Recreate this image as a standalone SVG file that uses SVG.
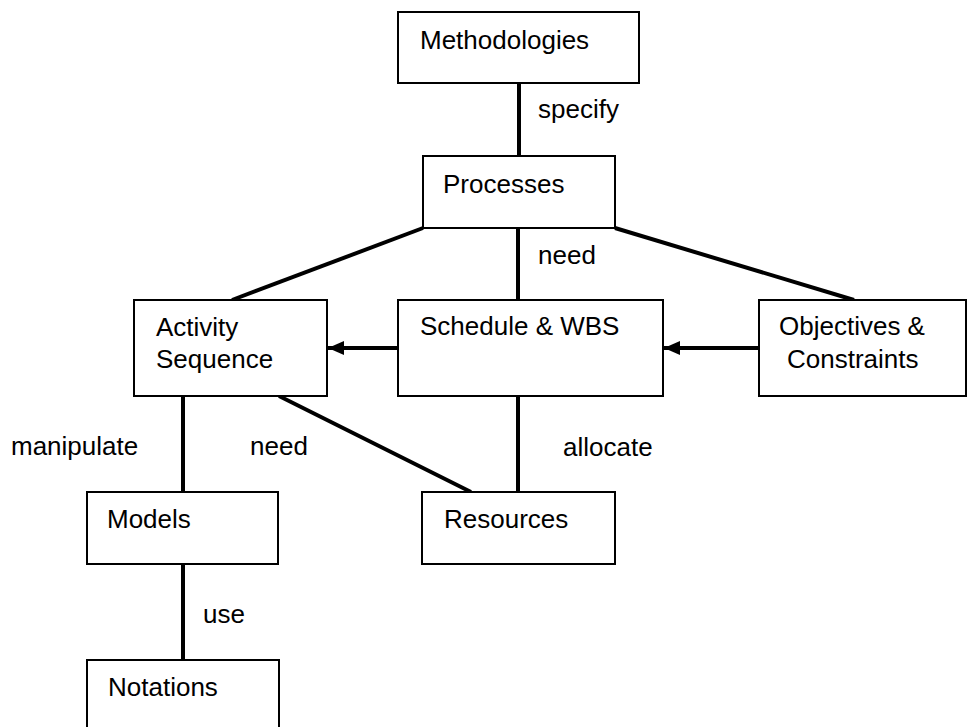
<svg xmlns="http://www.w3.org/2000/svg" width="967" height="727" viewBox="0 0 967 727">
<defs>
<style>
.box{fill:#fff;stroke:#000;stroke-width:2}
.t{font-family:"Liberation Sans",Arial,sans-serif;font-size:26px;fill:#000}
.c{stroke:#000;stroke-width:4;fill:none}
</style>
<marker id="ah" viewBox="0 0 16 14" refX="16" refY="7" markerWidth="16" markerHeight="14" markerUnits="userSpaceOnUse" orient="auto">
<path d="M0,0 L16,7 L0,14 Z" fill="#000"/>
</marker>
</defs>
<rect width="967" height="727" fill="#fff"/>
<g id="connectors">
<line class="c" x1="519" y1="83" x2="519" y2="156"/>
<line class="c" x1="518" y1="228" x2="518" y2="300"/>
<line class="c" x1="423" y1="228" x2="232" y2="300"/>
<line class="c" x1="615" y1="228" x2="854" y2="300"/>
<line class="c" x1="398" y1="348" x2="328" y2="348" marker-end="url(#ah)"/>
<line class="c" x1="759" y1="348" x2="664" y2="348" marker-end="url(#ah)"/>
<line class="c" x1="183" y1="396" x2="183" y2="492"/>
<line class="c" x1="279" y1="396" x2="471" y2="492"/>
<line class="c" x1="518" y1="396" x2="518" y2="492"/>
<line class="c" x1="183" y1="564" x2="183" y2="660"/>
<text class="t" x="538" y="118">specify</text>
<text class="t" x="538" y="264">need</text>
<text class="t" x="11" y="455">manipulate</text>
<text class="t" x="250" y="455">need</text>
<text class="t" x="563" y="456">allocate</text>
<text class="t" x="203" y="623">use</text>
</g>
<g id="methodologies"><rect class="box" x="398" y="12" width="241" height="71"/><text class="t" x="420" y="49">Methodologies</text></g>
<g id="processes"><rect class="box" x="423" y="156" width="192" height="72"/><text class="t" x="443" y="193">Processes</text></g>
<g id="activity"><rect class="box" x="134" y="300" width="193" height="96"/><text class="t" x="156" y="336">Activity</text><text class="t" x="156" y="368">Sequence</text></g>
<g id="schedule"><rect class="box" x="398" y="300" width="265" height="96"/><text class="t" x="420" y="335">Schedule &amp; WBS</text></g>
<g id="objectives"><rect class="box" x="759" y="300" width="207" height="96"/><text class="t" x="779" y="335">Objectives &amp;</text><text class="t" x="787" y="368">Constraints</text></g>
<g id="models"><rect class="box" x="87" y="492" width="191" height="72"/><text class="t" x="107" y="528">Models</text></g>
<g id="resources"><rect class="box" x="422" y="492" width="193" height="72"/><text class="t" x="444" y="528">Resources</text></g>
<g id="notations"><rect class="box" x="87" y="660" width="192" height="72"/><text class="t" x="108" y="696">Notations</text></g>
</svg>
